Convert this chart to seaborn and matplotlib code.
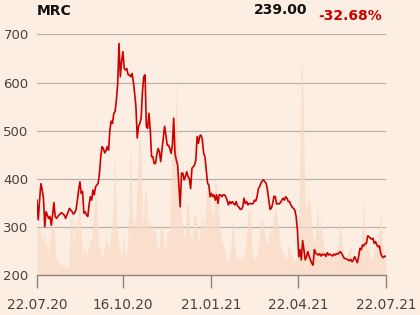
import numpy as np
import pandas as pd
import matplotlib
matplotlib.use("Agg")
import matplotlib.pyplot as plt
import seaborn as sns

ticker = "MRC"
last_price = "239.00"
change = "-32.68%"
tick_labels = ["22.07.20", "16.10.20", "21.01.21", "22.04.21", "22.07.21"]
tick_frac = [0.0, 0.246, 0.500, 0.748, 1.0]

price = [
    356, 315, 355, 390, 378, 360, 301, 332, 325, 318, 322, 304, 325, 351, 322, 318, 322, 325, 328, 330,
    327, 325, 318, 325, 332, 339, 335, 332, 327, 330, 336, 355, 377, 394, 370, 374, 329, 332, 325, 322,
    346, 363, 356, 377, 367, 384, 387, 391, 412, 446, 467, 463, 454, 458, 467,
    460, 502, 520, 515, 536, 540, 564, 598, 681, 612, 643, 664, 629, 626, 629, 616, 616, 612, 619, 602,
    578, 550, 485, 509, 515, 526, 581, 612, 616, 509, 505, 536, 502, 446, 446, 432, 432, 450, 463, 457,
    436, 460, 485, 509, 491, 470, 470, 463, 453, 470, 526, 453,
    439, 429, 384, 342, 412, 412, 398, 405, 415, 405, 401, 380, 422, 425, 429, 439, 488, 474, 489, 491,
    481, 453, 446, 419, 391, 387, 363, 370, 363, 367, 356, 367, 349, 367, 367, 363, 367, 367, 363, 356,
    346, 353, 349, 353, 349, 346, 353, 344, 342, 337, 337, 342, 360, 349,
    353, 346, 349, 349, 348, 349, 356, 354, 363, 380, 384, 391, 396, 398, 394, 391, 377, 356, 337, 339,
    349, 364, 363, 348, 349, 348, 351, 356, 360, 356, 363, 360, 353, 353, 346, 341, 339, 335, 322, 294,
    239, 253, 232, 272, 253, 232, 239, 249, 239, 232, 225, 221, 253, 247,
    244, 242, 245, 240, 244, 242, 244, 239, 247, 242, 244, 242, 240, 244, 242, 245, 244, 247, 249, 245,
    240, 235, 235, 233, 232, 230, 233, 228, 232, 239, 232, 226, 239, 256, 253, 263, 261, 266, 266, 282,
    280, 277, 275, 277, 266, 270, 263, 259, 261, 245, 239, 237, 240, 239,
]

# traded volume (scaled to chart units above the 200 baseline)
volume = [
    101, 94, 101, 66, 94, 59, 63, 39, 101, 122, 80, 32, 32, 25, 18, 25, 18, 17, 17, 129,
    108, 66, 122, 80, 218, 94, 39, 59, 39, 53, 73, 73, 122, 170, 149, 59,
    59, 32, 53, 80, 66, 59, 94, 122, 260, 122, 80, 53, 32, 94, 32, 53, 115, 281, 136, 101,
    122, 205, 295, 267, 94, 163, 177, 94, 122, 80, 108, 94, 59, 53, 94, 115, 66, 53, 94, 80, 191,
    350, 246, 402, 232, 184, 122, 94, 66, 156, 142, 80, 73, 122, 129, 80, 66, 108, 122, 94, 163,
    191, 163, 136, 122, 198, 184, 142, 94, 66, 59, 39, 32, 28, 66, 115, 66, 39, 39, 32, 39, 32, 53,
    94, 136,
    136, 53, 32, 39, 46, 66, 115, 108, 94, 66, 66, 108, 80, 115, 143, 122, 94, 66, 53, 46, 32, 39,
    66, 39, 39, 32, 32, 53, 218, 467, 371, 163, 136, 163, 149, 94, 66, 80, 146, 80,
    122, 80, 53, 39, 32, 39, 46, 39, 53, 53, 66, 115, 66, 39, 32, 46, 53, 59, 39, 25, 32, 39, 53,
    66, 163, 80, 66, 53, 39, 32, 39, 59, 66, 94, 132, 66, 39, 25,
]

df_p = pd.DataFrame({"t": np.arange(len(price)), "price": price})
vx = np.linspace(0, len(price) - 1, len(volume))
base = 200

bg = "#FCEEE2"
fig = plt.figure(figsize=(4.2, 3.15), dpi=100, facecolor=bg)
ax = fig.add_axes([0.088, 0.126, 0.831, 0.765], facecolor=bg)

ax.fill_between(vx, base, base + np.array(volume), color="#F8D9C4", alpha=0.7, lw=0, zorder=1)
sns.lineplot(data=df_p, x="t", y="price", ax=ax, color="#CC0000", lw=1.2, zorder=3)

ax.set_xlim(0, len(price) - 1)
ax.set_ylim(200, 700)
ax.set_yticks([200, 300, 400, 500, 600, 700])
ax.yaxis.grid(True, color="#B5B0AC", lw=0.9, zorder=0)
ax.set_axisbelow(True)
ax.set_xticks([f * (len(price) - 1) for f in tick_frac])
ax.set_xticklabels(tick_labels)
ax.set_xlabel("")
ax.set_ylabel("")
for s in ["top", "right", "left"]:
    ax.spines[s].set_visible(False)
ax.spines["bottom"].set_color("#8A8683")
ax.spines["bottom"].set_linewidth(1.0)
ax.tick_params(axis="y", length=0, pad=6, labelsize=9.5, labelcolor="#444444")
ax.tick_params(axis="x", length=9, width=1, color="#8A8683", pad=7.5, labelsize=9.8, labelcolor="#444444")

fig.text(37 / 420, 1 - 11 / 315, ticker, fontsize=10, fontweight="bold", color="#111111", va="center", ha="left")
fig.text(307 / 420, 1 - 10 / 315, last_price, fontsize=10, fontweight="bold", color="#111111", va="center", ha="right")
fig.text(382 / 420, 1 - 16 / 315, change, fontsize=10, fontweight="bold", color="#CC0000", va="center", ha="right")

fig.savefig("out.png", dpi=100, facecolor=bg)
